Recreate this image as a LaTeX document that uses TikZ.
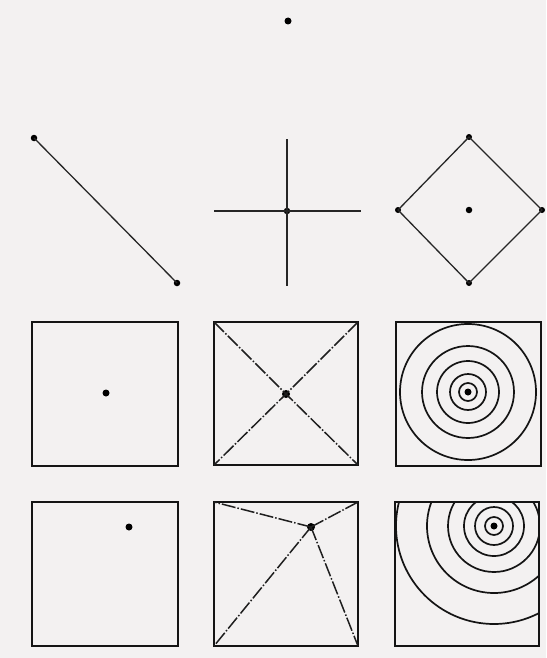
\documentclass[tikz,border=0pt]{standalone}
\begin{document}
\begin{tikzpicture}[x=1pt,y=-1pt,
  dotnode/.style={circle,fill=black,inner sep=0pt,minimum size=7pt},
  thinline/.style={line width=1.3pt,draw=black!85},
  frame/.style={line width=2.4pt,draw=black!92},
  dashdot/.style={line width=1.5pt,draw=black!88,dash pattern=on 14pt off 2pt on 1.5pt off 2pt},
  ring/.style={line width=1.7pt,draw=black!92}]
\fill[fill={rgb,255:red,243;green,241;blue,241}] (0,0) rectangle (546,658);
\useasboundingbox (0,0) rectangle (546,658);

% top single dot
\node[dotnode] (top) at (288,21) {};

% line segment
\node[dotnode,minimum size=6.5pt] (la) at (34,138) {};
\node[dotnode,minimum size=6.5pt] (lb) at (177,283) {};
\draw[thinline] (la.center) -- (lb.center);

% cross
\coordinate (cn) at (287,139);
\coordinate (cs) at (287,286);
\coordinate (cw) at (214,211);
\coordinate (ce) at (361,211);
\node[dotnode,minimum size=6.5pt] (cc) at (287,211) {};
\draw[thinline] (cn) -- (cs);
\draw[thinline] (cw) -- (ce);

% diamond
\node[dotnode,minimum size=6pt] (dn) at (469,137) {};
\node[dotnode,minimum size=6pt] (dw) at (398,210) {};
\node[dotnode,minimum size=6pt] (de) at (542,210) {};
\node[dotnode,minimum size=6pt] (ds) at (469,283) {};
\node[dotnode,minimum size=6.5pt] (dc) at (469,210) {};
\draw[thinline] (dn.center) -- (de.center) -- (ds.center) -- (dw.center) -- cycle;

% row 1 left
\draw[frame] (32,322) rectangle (178,466);
\node[dotnode] (p1) at (106,393) {};

% row 1 middle
\coordinate (m1a) at (214,322);
\coordinate (m1b) at (358,322);
\coordinate (m1c) at (358,465);
\coordinate (m1d) at (214,465);
\draw[frame] (m1a) rectangle (m1c);
\node[dotnode,minimum size=8pt] (p2) at (286,394) {};
\draw[dashdot] (m1a) -- (p2.center) -- (m1c);
\draw[dashdot] (m1b) -- (p2.center) -- (m1d);

% row 1 right
\draw[frame] (396,322) rectangle (541,466);
\node[dotnode] (p3) at (468,392) {};
\foreach \r in {9,18,31,46,68} \draw[ring] (p3.center) circle (\r);

% row 2 left
\draw[frame] (32,502) rectangle (178,646);
\node[dotnode] (p4) at (129,527) {};

% row 2 middle
\coordinate (m2a) at (214,502);
\coordinate (m2b) at (358,502);
\coordinate (m2c) at (358,646);
\coordinate (m2d) at (214,646);
\draw[frame] (m2a) rectangle (m2c);
\node[dotnode,minimum size=8pt] (p5) at (311,527) {};
\draw[dashdot] (p5.center) -- (m2a);
\draw[dashdot] (p5.center) -- (m2b);
\draw[dashdot] (p5.center) -- (m2c);
\draw[dashdot] (p5.center) -- (m2d);

% row 2 right
\coordinate (r2a) at (395,502);
\coordinate (r2c) at (539,646);
\node[dotnode] (p6) at (494,526) {};
\begin{scope}
\clip (r2a) rectangle (r2c);
\foreach \r in {9,19,30,46,67,98} \draw[ring] (p6.center) circle (\r);
\end{scope}
\draw[frame] (r2a) rectangle (r2c);
\end{tikzpicture}
\end{document}
